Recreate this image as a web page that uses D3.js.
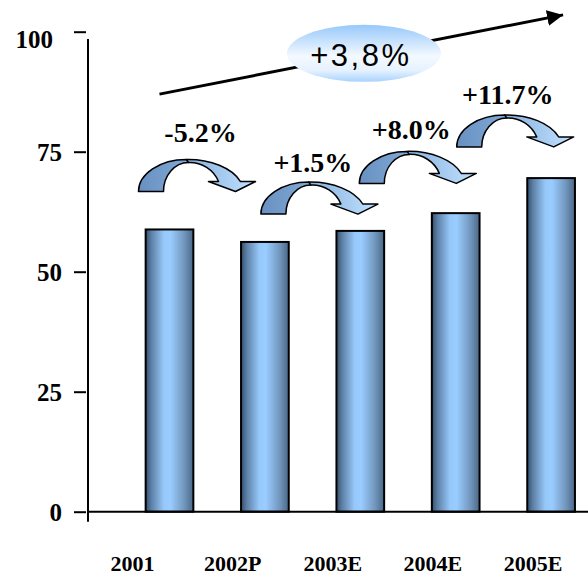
<!DOCTYPE html>
<html>
<head>
<meta charset="utf-8">
<script src="https://cdn.jsdelivr.net/npm/d3@7"></script>
<style>
  html, body { margin: 0; padding: 0; background: #fff; }
  svg { display: block; }
</style>
</head>
<body>
<svg id="chart" width="588" height="577"></svg>
<script>
// ---- data ----
const categories = ["2001", "2002P", "2003E", "2004E", "2005E"];
const values = [58.8, 56.2, 58.5, 62.2, 69.5];
const growthLabels = ["-5.2%", "+1.5%", "+8.0%", "+11.7%"];
const cagrLabel = "+3,8%";
const yTicks = [0, 25, 50, 75, 100];

// ---- layout of the growth arrows (value-space levels, pixel nudges) ----
const arrowLevel = [66.7, 62, 68.4, 76];      // base of each curved arrow, in axis units
const arrowShift = [-31, -4, -1, 1];           // offset from the left bar's centre
const labelDx = [62, 52, 52, 51];
const labelRise = [18, 10, 12, 11];

const svg = d3.select("#chart");
const defs = svg.append("defs");

// scales
const x = d3.scaleBand().domain(categories).range([121.8, 598.8])
  .paddingInner(0.5).paddingOuter(0.25);
const xLabel = d3.scalePoint().domain(categories).range([132.5, 533]);
const y = d3.scaleLinear().domain([0, 100]).range([511.7, 31.7]);

// gradients
const barGrad = defs.append("linearGradient").attr("id", "barGrad")
  .attr("x1", "0%").attr("x2", "100%").attr("y1", "0%").attr("y2", "0%");
[["0%", "#33506e"], ["12%", "#5d80a6"], ["38%", "#96c8fa"], ["52%", "#99ccff"],
 ["80%", "#7398bf"], ["100%", "#4a6888"]].forEach(([o, c]) =>
  barGrad.append("stop").attr("offset", o).attr("stop-color", c));

const ellGrad = defs.append("linearGradient").attr("id", "ellGrad")
  .attr("x1", "0%").attr("x2", "0%").attr("y1", "0%").attr("y2", "100%");
[["0%", "#97c9fb"], ["55%", "#f4f9ff"], ["80%", "#e6f2ff"], ["100%", "#a9d3fd"]].forEach(([o, c]) =>
  ellGrad.append("stop").attr("offset", o).attr("stop-color", c));

const backGrad = defs.append("linearGradient").attr("id", "backGrad")
  .attr("x1", "0%").attr("x2", "100%").attr("y1", "0%").attr("y2", "0%");
[["0%", "#6890c0"], ["100%", "#80aad8"]].forEach(([o, c]) =>
  backGrad.append("stop").attr("offset", o).attr("stop-color", c));

const frontGrad = defs.append("linearGradient").attr("id", "frontGrad")
  .attr("x1", "0%").attr("x2", "100%").attr("y1", "0%").attr("y2", "0%");
[["0%", "#86b0de"], ["100%", "#c2e2ff"]].forEach(([o, c]) =>
  frontGrad.append("stop").attr("offset", o).attr("stop-color", c));

defs.append("marker").attr("id", "trendHead")
  .attr("viewBox", "0 0 16 16").attr("refX", 16).attr("refY", 8)
  .attr("markerWidth", 16).attr("markerHeight", 16)
  .attr("markerUnits", "userSpaceOnUse").attr("orient", "auto")
  .append("path").attr("d", "M0,0 L16,8 L0,16 Z").attr("fill", "#000");

// ---- bars ----
svg.append("g").selectAll("rect").data(values).join("rect")
  .attr("x", (d, i) => x(categories[i]))
  .attr("width", x.bandwidth())
  .attr("y", d => y(d))
  .attr("height", d => y(0) - y(d))
  .attr("fill", "url(#barGrad)")
  .attr("stroke", "#000").attr("stroke-width", 2);

// ---- axes ----
const axisX0 = 88;
svg.append("line")
  .attr("x1", axisX0).attr("x2", axisX0)
  .attr("y1", y(98.5)).attr("y2", y(0) + 10)
  .attr("stroke", "#000").attr("stroke-width", 2);
svg.append("line")
  .attr("x1", axisX0).attr("x2", 588)
  .attr("y1", y(0)).attr("y2", y(0))
  .attr("stroke", "#000").attr("stroke-width", 2);

const yAxis = svg.append("g").attr("transform", `translate(${axisX0 - 2},0)`)
  .call(d3.axisLeft(y).tickValues(yTicks).tickSize(12).tickPadding(12));
yAxis.select(".domain").remove();
yAxis.selectAll(".tick line").attr("stroke", "#000").attr("stroke-width", 2);
yAxis.selectAll(".tick text")
  .attr("fill", "#000")
  .style("font-family", "'Liberation Serif', 'Times New Roman', serif")
  .style("font-weight", "bold").style("font-size", "25px")
  .attr("dx", d => d === 100 ? -9 : 0)
  .attr("dy", d => d === 100 ? "0.65em" : "0.34em");

// category labels
svg.append("g").selectAll("text").data(categories).join("text")
  .attr("x", d => xLabel(d))
  .attr("y", 571)
  .attr("text-anchor", "middle")
  .style("font-family", "'Liberation Serif', 'Times New Roman', serif")
  .style("font-weight", "bold").style("font-size", "22px")
  .text(d => d);

// ---- overall trend arrow with CAGR bubble ----
const trendStart = [x(categories[0]) + x.bandwidth() / 2 - 10, y(87)];
const trendEnd = [x(categories[4]) + x.bandwidth() / 2 + 12, y(103.5)];
svg.append("line")
  .attr("x1", trendStart[0]).attr("y1", trendStart[1])
  .attr("x2", trendEnd[0]).attr("y2", trendEnd[1])
  .attr("stroke", "#000").attr("stroke-width", 3)
  .attr("marker-end", "url(#trendHead)");

const bubbleX = x(categories[2]) + x.bandwidth() / 2 + 3.6;
const bubbleY = y(95.5);
svg.append("ellipse")
  .attr("cx", bubbleX).attr("cy", bubbleY)
  .attr("rx", 77).attr("ry", 28.5)
  .attr("fill", "url(#ellGrad)");
svg.append("text")
  .attr("x", bubbleX - 3).attr("y", bubbleY + 13)
  .attr("text-anchor", "middle")
  .style("font-family", "'Liberation Sans', Arial, sans-serif")
  .style("font-size", "31px").style("letter-spacing", "2.5px")
  .text(cagrLabel);

// ---- year-on-year curved arrows ----
const H = 32;
const backPath = `M0,0 A48,${H} 0 0 1 48,${-H} L50,${-H + 3} A25,${H - 3} 0 0 0 25,0 Z`;
const frontPath = `M48,${-H} A56,34 0 0 1 102,-10 L117,-10 L97,0 L70,-10 L80,-10 A31,30 0 0 0 50,${-H + 3} Z`;

growthLabels.forEach((lbl, i) => {
  const ox = x(categories[i]) + x.bandwidth() / 2 + arrowShift[i];
  const oy = y(arrowLevel[i]);
  const g = svg.append("g").attr("transform", `translate(${ox},${oy})`);
  g.append("path").attr("d", backPath)
    .attr("fill", "url(#backGrad)").attr("stroke", "#000")
    .attr("stroke-width", 1.5).attr("stroke-linejoin", "round");
  g.append("path").attr("d", frontPath)
    .attr("fill", "url(#frontGrad)").attr("stroke", "#000")
    .attr("stroke-width", 1.5).attr("stroke-linejoin", "round");
  svg.append("text")
    .attr("x", ox + labelDx[i]).attr("y", oy - H - labelRise[i])
    .attr("text-anchor", "middle")
    .style("font-family", "'Liberation Serif', 'Times New Roman', serif")
    .style("font-weight", "bold").style("font-size", "28px")
    .text(lbl);
});
</script>
</body>
</html>
